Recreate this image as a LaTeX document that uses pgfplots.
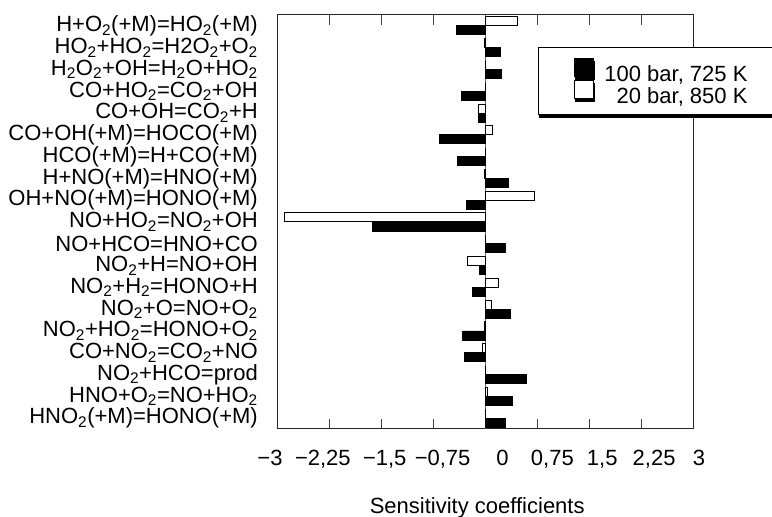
\documentclass[border=0pt]{standalone}
\usepackage{fontspec}
\setmainfont{Liberation Sans}
\usepackage{pgfplots}
\pgfplotsset{compat=1.18}
\usetikzlibrary{shadows}
\newcommand{\s}[1]{\textsubscript{#1}}
\begin{document}
\begin{tikzpicture}
\useasboundingbox (0,0) rectangle (772pt,517pt);
\begin{axis}[
  at={(278pt,88pt)}, anchor=south west,
  scale only axis, width=415pt, height=414pt,
  xbar=0pt, bar width=9pt,
  xmin=-3, xmax=3, ymin=-0.5, ymax=18.5,
  xtick={-3,-2.25,-1.5,-0.75,0,0.75,1.5,2.25,3},
  xticklabels={{−3},{−2,25},{−1,5},{−0,75},{0},{0,75},{1,5},{2,25},{3}},
  ytick={0,...,18},
  yticklabels={
    {HNO\s{2}(+M)=HONO(+M)},
    {HNO+O\s{2}=NO+HO\s{2}},
    {NO\s{2}+HCO=prod},
    {CO+NO\s{2}=CO\s{2}+NO},
    {NO\s{2}+HO\s{2}=HONO+O\s{2}},
    {NO\s{2}+O=NO+O\s{2}},
    {NO\s{2}+H\s{2}=HONO+H},
    {NO\s{2}+H=NO+OH},
    {NO+HCO=HNO+CO},
    {NO+HO\s{2}=NO\s{2}+OH},
    {OH+NO(+M)=HONO(+M)},
    {H+NO(+M)=HNO(+M)},
    {HCO(+M)=H+CO(+M)},
    {CO+OH(+M)=HOCO(+M)},
    {CO+OH=CO\s{2}+H},
    {CO+HO\s{2}=CO\s{2}+OH},
    {H\s{2}O\s{2}+OH=H\s{2}O+HO\s{2}},
    {HO\s{2}+HO\s{2}=H2O\s{2}+O\s{2}},
    {H+O\s{2}(+M)=HO\s{2}(+M)}
  },
  tick align=inside, major tick length=10pt,
  y tick style={draw=none},
  x tick style={line width=1pt, black!75},
  axis line style={line width=1pt, black!85},
  tick label style={font=\fontsize{22}{24}\selectfont},
  yticklabel style={inner sep=0pt, xshift=-20pt},
  xticklabel style={inner xsep=1pt, yshift=-18pt,
    xshift={{-8,-7,3,9,17,15,13,13,6}[\ticknum]*1pt}},
  xlabel={Sensitivity coefficients},
  xlabel style={font=\fontsize{22}{24}\selectfont, inner sep=0pt, at={(axis description cs:0.48,0)}, anchor=north, yshift=-68pt},
  extra x ticks={0}, extra x tick labels={},
  extra x tick style={grid=major, major grid style={black!60, line width=1pt}, tick style={draw=none}, xticklabel style={xshift=0pt}},
  legend style={
    at={(0.6265,0.9227)}, anchor=north west,
    font=\fontsize{22}{24}\selectfont,
    draw=black, line width=1pt, fill=white,
    inner xsep=36pt, inner ysep=10pt,
    row sep=-3pt,
    nodes={inner sep=0pt},
    drop shadow={shadow xshift=1pt, shadow yshift=-3pt, fill=black, opacity=1},
  },
  legend cell align=right,
  legend image code/.code={\draw[#1, line width=0.8pt] (0pt,-2pt) rectangle (19pt,16pt); \path (29pt,0pt);},
]
\addplot[fill=black, draw=black, line width=0.8pt] coordinates {
 (-0.42,18) (0.22,17) (0.23,16) (-0.35,15) (-0.10,14) (-0.66,13) (-0.40,12)
 (0.33,11) (-0.27,10) (-1.63,9) (0.29,8) (-0.09,7) (-0.19,6) (0.36,5)
 (-0.33,4) (-0.31,3) (0.59,2) (0.39,1) (0.29,0)
};
\addplot[fill=white, draw=black, line width=1pt] coordinates {
 (0.46,18) (-0.02,17) (0,16) (0,15) (-0.10,14) (0.10,13) (0,12)
 (-0.02,11) (0.71,10) (-2.90,9) (0,8) (-0.26,7) (0.19,6) (0.09,5)
 (-0.01,4) (-0.05,3) (0,2) (0.03,1) (0,0)
};
\legend{{100 bar, 725 K},{20 bar, 850 K}}
\end{axis}
\end{tikzpicture}
\end{document}
